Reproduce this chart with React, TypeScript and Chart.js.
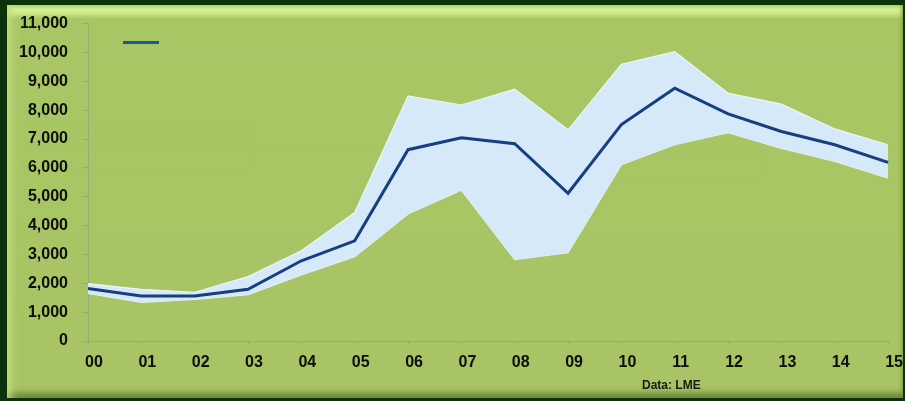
import React, { useEffect, useRef } from "react";
import { Chart, registerables } from "chart.js";

Chart.register(...registerables);

const years = ["00", "01", "02", "03", "04", "05", "06", "07", "08", "09", "10", "11", "12", "13", "14", "15"];
const meanPrice = [1820, 1560, 1560, 1790, 2780, 3470, 6630, 7045, 6840, 5120, 7500, 8760, 7870, 7260, 6800, 6190];
const highPrice = [1990, 1790, 1690, 2230, 3130, 4450, 8490, 8180, 8730, 7320, 9590, 10030, 8590, 8210, 7350, 6800];
const lowPrice = [1650, 1340, 1440, 1610, 2290, 2920, 4400, 5230, 2820, 3060, 6110, 6800, 7220, 6670, 6220, 5640];
const yTicks = [0, 1000, 2000, 3000, 4000, 5000, 6000, 7000, 8000, 9000, 10000, 11000];
const sourceNote = "Data: LME";

const legendPlugin = {
  id: "lineLegend",
  afterDraw(chart: any) {
    const { ctx, chartArea } = chart;
    ctx.save();
    ctx.strokeStyle = "#1d5a8c";
    ctx.lineWidth = 3;
    ctx.beginPath();
    const y = chartArea.top + 19;
    ctx.moveTo(chartArea.left + 35, y);
    ctx.lineTo(chartArea.left + 71, y);
    ctx.stroke();
    ctx.restore();
  },
};

export default function App() {
  const ref = useRef<HTMLCanvasElement | null>(null);
  useEffect(() => {
    document.body.style.margin = "0";
    const font = { family: "'Liberation Sans', Arial, sans-serif", size: 16, weight: "bold" as const };
    const chart = new Chart(ref.current!, {
      type: "line",
      data: {
        labels: years,
        datasets: [
          {
            label: "Mean",
            data: meanPrice,
            borderColor: "#163e80",
            borderWidth: 3,
            pointRadius: 0,
            fill: false,
            tension: 0,
            order: 0,
          },
          {
            label: "Low",
            data: lowPrice,
            borderColor: "rgba(240,248,255,0.9)",
            borderWidth: 1.2,
            pointRadius: 0,
            fill: false,
            tension: 0,
            order: 2,
          },
          {
            label: "High",
            data: highPrice,
            borderColor: "rgba(240,248,255,0.9)",
            borderWidth: 1.2,
            pointRadius: 0,
            fill: 1,
            backgroundColor: "#d6e9f8",
            tension: 0,
            order: 1,
          },
        ],
      },
      options: {
        animation: false,
        responsive: false,
        maintainAspectRatio: false,
        layout: { padding: { left: 0, right: 16, top: 21, bottom: 0 } },
        plugins: {
          legend: { display: false },
          tooltip: { enabled: false },
        },
        scales: {
          x: {
            offset: false,
            grid: {
              drawOnChartArea: false,
              drawTicks: true,
              tickLength: 4,
              color: "#93ad74",
            },
            border: { display: true, color: "#93ad74", width: 1 },
            ticks: { color: "#0d0d0d", font, padding: 8, maxRotation: 0, autoSkip: false, labelOffset: 6 },
            afterFit(axis: any) {
              axis.height = 60;
            },
          },
          y: {
            min: 0,
            max: 11000,
            afterBuildTicks(axis: any) {
              axis.ticks = yTicks.map((v) => ({ value: v }));
            },
            grid: {
              drawOnChartArea: false,
              drawTicks: true,
              tickLength: 6,
              color: "#93ad74",
            },
            border: { display: true, color: "#93ad74", width: 1 },
            ticks: {
              color: "#0d0d0d",
              font,
              padding: 14,
              callback: (v: any) => Number(v).toLocaleString("en-US"),
            },
            afterFit(axis: any) {
              axis.width = 88;
            },
          },
        },
      },
      plugins: [legendPlugin],
    });
    return () => chart.destroy();
  }, []);

  return (
    <div
      style={{
        position: "relative",
        width: 905,
        height: 401,
        background: "#0b3208",
        overflow: "hidden",
      }}
    >
      <div
        style={{
          position: "absolute",
          left: 7,
          top: 5,
          right: 2,
          bottom: 3,
          background:
            "linear-gradient(to bottom, #b8d870 0px, #d6f292 5px, #c6e482 9px, #a9c665 14px, #a8c464 100%)",
          boxShadow: "inset 10px 0 8px -6px #c4de7e, inset 0 -9px 6px -4px #6a863a, inset -3px 0 4px -2px #7e9a48",
        }}
      />
      <canvas ref={ref} width={905} height={401} style={{ position: "absolute", left: 0, top: 0 }} />
      <div
        style={{
          position: "absolute",
          left: 642,
          top: 378,
          fontFamily: "'Liberation Sans', Arial, sans-serif",
          fontWeight: "bold",
          fontSize: 12,
          color: "#1a1a1a",
        }}
      >
        {sourceNote}
      </div>
    </div>
  );
}
